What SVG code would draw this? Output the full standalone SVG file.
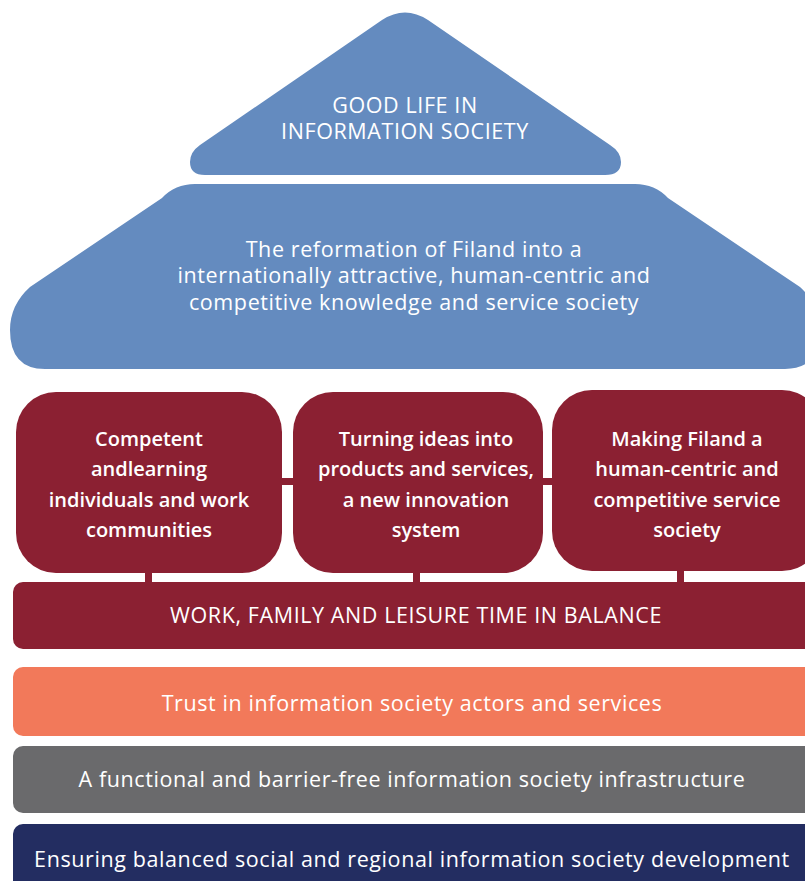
<svg xmlns="http://www.w3.org/2000/svg" width="805" height="881" viewBox="0 0 805 881">
<style>
.blue{fill:#648BBF}
.red{fill:#8B2032}
.t{font-family:"Open Sans","Noto Sans","Liberation Sans",sans-serif;fill:#fff;text-anchor:middle}
.r{font-size:21.5px;font-weight:400;letter-spacing:0.6px}
.b{font-size:20px;font-weight:600}
</style>
<rect width="805" height="881" fill="#fff"/>
<g id="connectors" class="red">
<rect x="280" y="478" width="15" height="7"/>
<rect x="541" y="478" width="13" height="7"/>
<rect x="145" y="570" width="7" height="14"/>
<rect x="413" y="570" width="7" height="14"/>
<rect x="677" y="568" width="7" height="16"/>
</g>
<g id="roof-top">
<path class="blue" d="M205,175 L605,175 Q621,175 621,162 Q621,152 610,145 L428,20 Q405,5 382,20 L200,145 Q190,152 190,162 Q190,175 205,175 Z"/>
<text class="t r" x="405" y="113">GOOD LIFE IN</text>
<text class="t r" x="405" y="139">INFORMATION SOCIETY</text>
</g>
<g id="roof-main">
<path class="blue" d="M45,369 L785,369 Q820,369 820,330 Q820,305 800,287 L668,198 Q655,184 635,184 L195,184 Q175,184 162,198 L30,287 Q10,305 10,330 Q10,369 45,369 Z"/>
<text class="t r" x="414" y="257">The reformation of Filand into a</text>
<text class="t r" x="414" y="283">internationally attractive, human-centric and</text>
<text class="t r" x="414" y="310">competitive knowledge and service society</text>
</g>
<g id="pillar1">
<rect class="red" x="16" y="392" width="266" height="181" rx="40"/>
<text class="t b" x="149" y="446">Competent</text>
<text class="t b" x="149" y="476">andlearning</text>
<text class="t b" x="149" y="507">individuals and work</text>
<text class="t b" x="149" y="537">communities</text>
</g>
<g id="pillar2">
<rect class="red" x="293" y="392" width="250" height="181" rx="40"/>
<text class="t b" x="426" y="446">Turning ideas into</text>
<text class="t b" x="426" y="476">products and services,</text>
<text class="t b" x="426" y="507">a new innovation</text>
<text class="t b" x="426" y="537">system</text>
</g>
<g id="pillar3">
<rect class="red" x="552" y="390" width="270" height="181" rx="40"/>
<text class="t b" x="687" y="446">Making Filand a</text>
<text class="t b" x="687" y="476">human-centric and</text>
<text class="t b" x="687" y="507">competitive service</text>
<text class="t b" x="687" y="537">society</text>
</g>
<g id="balance">
<rect class="red" x="13" y="582" width="810" height="67" rx="10"/>
<text class="t r" x="416" y="623">WORK, FAMILY AND LEISURE TIME IN BALANCE</text>
</g>
<g id="trust">
<rect x="13" y="667" width="810" height="69" rx="10" fill="#F2795A"/>
<text class="t r" x="412" y="711">Trust in information society actors and services</text>
</g>
<g id="infrastructure">
<rect x="13" y="746" width="810" height="67" rx="10" fill="#6A6A6C"/>
<text class="t r" x="412" y="787">A functional and barrier-free information society infrastructure</text>
</g>
<g id="development">
<rect x="13" y="824" width="810" height="80" rx="10" fill="#232D61"/>
<text class="t r" x="412" y="867">Ensuring balanced social and regional information society development</text>
</g>
</svg>
